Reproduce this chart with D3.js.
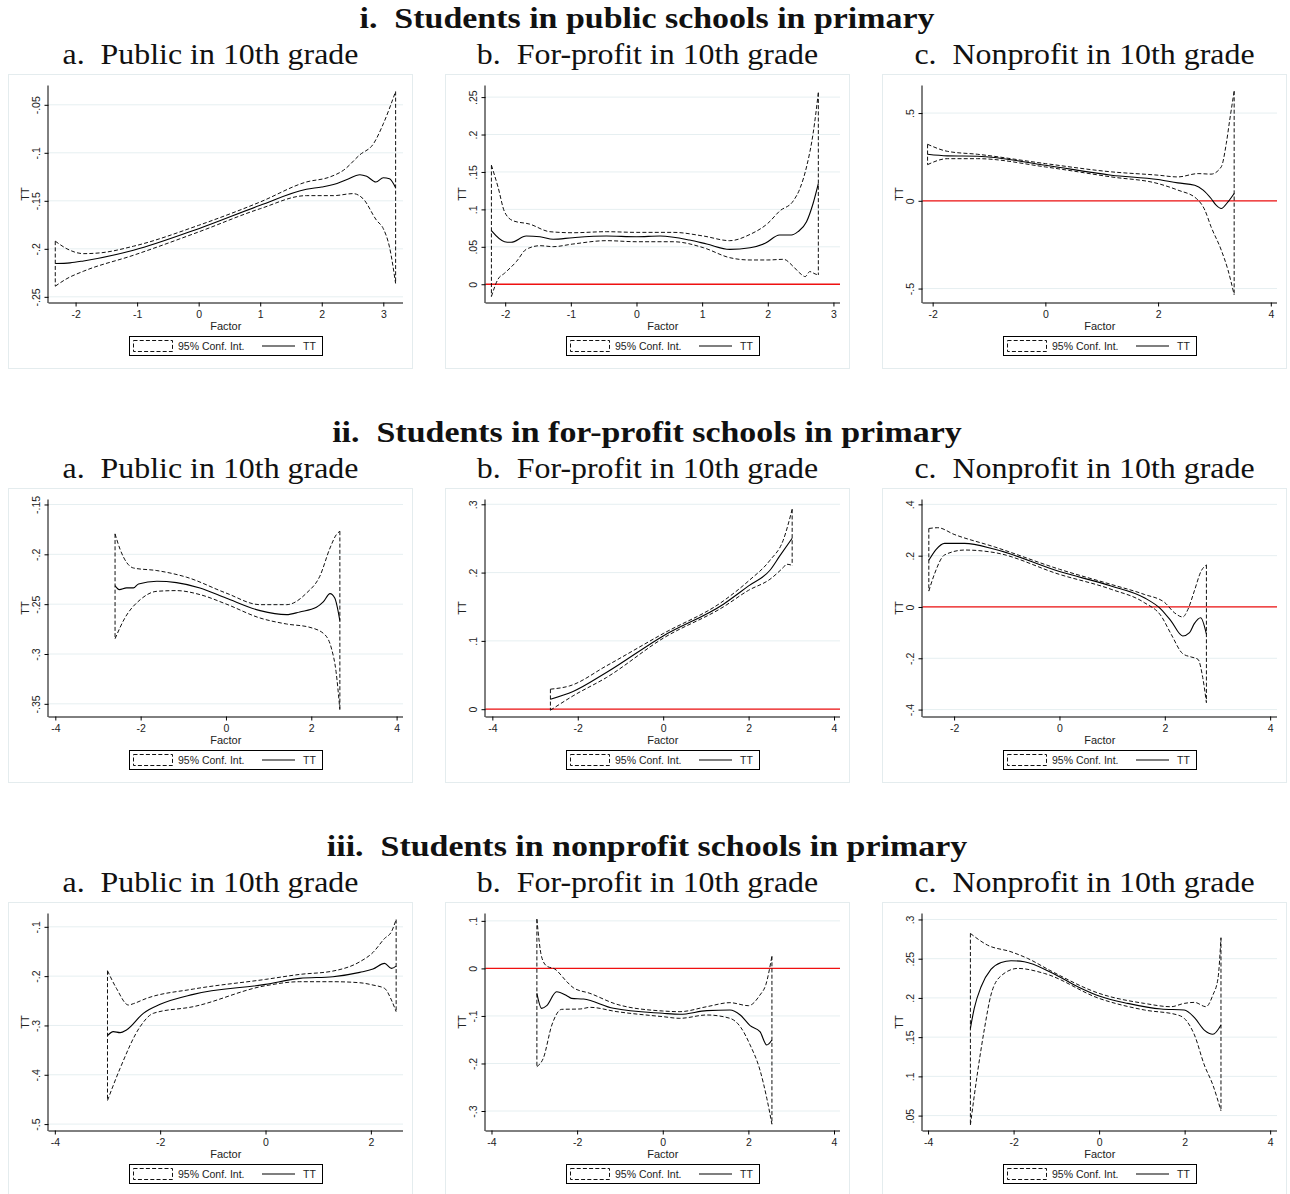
<!DOCTYPE html>
<html>
<head>
<meta charset="utf-8">
<script src="https://cdn.jsdelivr.net/npm/d3@7"></script>
<style>
  body { margin: 0; background: #fff; }
  svg text { font-family: "Liberation Sans", Arial, sans-serif; }
  .rowtitle, .subtitle { font-family: "Liberation Serif", "Times New Roman", serif !important; fill: #111; }
</style>
</head>
<body>
<div id="chart"></div>
<script>
// ---- titles ----
var rowTitles = [
  'i.  Students in public schools in primary',
  'ii.  Students in for-profit schools in primary',
  'iii.  Students in nonprofit schools in primary'
]
var colTitles = [
  'a.  Public in 10th grade',
  'b.  For-profit in 10th grade',
  'c.  Nonprofit in 10th grade'
]

// ---- i-a ----
var iaTT = [[-2.33,-0.2153],[-2.09,-0.2146],[-1.87,-0.2126],[-1.06,-0.2015],[0,-0.179],[1,-0.1547],[1.75,-0.138],[2,-0.1356],[2.19,-0.133],[2.4,-0.128],[2.62,-0.1228],[2.73,-0.1245],[2.88,-0.1304],[3.0,-0.126],[3.1,-0.127],[3.2,-0.1363]]
var iaHi = [[-2.33,-0.192],[-2.14,-0.2],[-1.87,-0.205],[-1.6,-0.2042],[-1.06,-0.1973],[0,-0.1755],[1,-0.1512],[1.75,-0.1304],[2.13,-0.1252],[2.35,-0.1183],[2.62,-0.102],[2.84,-0.0906],[3.0,-0.0698],[3.2,-0.0361]]
var iaLo = [[-2.33,-0.2389],[-2.14,-0.231],[-1.87,-0.2233],[-1.06,-0.2067],[0,-0.1824],[1,-0.1582],[1.75,-0.1446],[2.19,-0.1446],[2.51,-0.1425],[2.67,-0.1477],[2.89,-0.1703],[3.0,-0.179],[3.1,-0.198],[3.2,-0.2361]]
// ---- i-b ----
var ibTT = [[-2.21,0.0715],[-2.01,0.0568],[-1.91,0.056],[-1.68,0.0644],[-1.47,0.0635],[-1.27,0.06],[-0.97,0.0622],[-0.46,0.0644],[0,0.0635],[0.36,0.0644],[0.81,0.059],[1.07,0.0537],[1.42,0.0466],[1.73,0.0488],[1.96,0.0546],[2.18,0.0657],[2.36,0.0657],[2.46,0.0702],[2.59,0.0835],[2.69,0.1079],[2.77,0.1345]]
var ibHi = [[-2.21,0.159],[-2.11,0.1301],[-2.01,0.0968],[-1.88,0.0848],[-1.63,0.0804],[-1.32,0.0702],[-0.97,0.0688],[-0.46,0.0702],[0,0.0693],[0.56,0.0693],[1.02,0.0644],[1.42,0.0582],[1.73,0.0666],[2.0,0.0813],[2.18,0.0977],[2.39,0.1115],[2.49,0.1279],[2.59,0.1567],[2.69,0.2012],[2.77,0.2558]]
var ibLo = [[-2.21,-0.0164],[-2.11,0.0067],[-2.01,0.0147],[-1.83,0.0302],[-1.68,0.0466],[-1.47,0.0515],[-1.27,0.0502],[-0.97,0.0537],[-0.46,0.0582],[0,0.0568],[0.56,0.0568],[1.02,0.0488],[1.42,0.0355],[1.73,0.0324],[2.0,0.0324],[2.24,0.0333],[2.39,0.0235],[2.49,0.0147],[2.57,0.0102],[2.64,0.0169],[2.72,0.0138],[2.77,0.0124]]
// ---- i-c ----
var icTT = [[-2.09,0.265],[-1.74,0.256],[-1.2,0.254],[0,0.203],[1.17,0.146],[2,0.121],[2.35,0.102],[2.65,0.089],[2.8,0.061],[2.94,0.013],[3.03,-0.025],[3.12,-0.044],[3.24,-0.006],[3.35,0.042]]
var icHi = [[-2.09,0.322],[-1.74,0.282],[-1.2,0.265],[0,0.212],[1.17,0.165],[2,0.146],[2.35,0.136],[2.71,0.155],[2.94,0.152],[3.12,0.193],[3.21,0.326],[3.27,0.458],[3.35,0.625]]
var icLo = [[-2.09,0.206],[-1.74,0.24],[-1.2,0.24],[0,0.193],[1.17,0.136],[2,0.098],[2.35,0.061],[2.68,0.013],[2.83,-0.053],[2.94,-0.148],[3.12,-0.28],[3.24,-0.394],[3.35,-0.536]]
// ---- ii-a ----
var iiaTT = [[-2.6,-0.2314],[-2.5,-0.2354],[-2.33,-0.2337],[-2.17,-0.2337],[-2.05,-0.2297],[-1.62,-0.227],[-1.16,-0.2284],[-0.61,-0.2337],[0,-0.2438],[0.8,-0.2565],[1.42,-0.2605],[1.73,-0.2578],[2.12,-0.2532],[2.28,-0.2478],[2.44,-0.2394],[2.55,-0.2438],[2.67,-0.2666]]
var iiaHi = [[-2.6,-0.1795],[-2.48,-0.1952],[-2.17,-0.2137],[-1.62,-0.2163],[-0.92,-0.223],[0,-0.2388],[0.8,-0.2505],[1.42,-0.2505],[1.89,-0.2388],[2.2,-0.222],[2.44,-0.1936],[2.59,-0.1801],[2.67,-0.1768]]
var iiaLo = [[-2.6,-0.2847],[-2.37,-0.2639],[-2.01,-0.2455],[-1.62,-0.2371],[-1.16,-0.2364],[-0.61,-0.2404],[0,-0.2498],[0.8,-0.2639],[1.42,-0.2699],[1.97,-0.2733],[2.32,-0.2807],[2.47,-0.294],[2.58,-0.3175],[2.67,-0.356]]
// ---- ii-b ----
var iibTT = [[-2.64,0.0146],[-2.11,0.0259],[-1.33,0.0537],[0,0.1073],[1.41,0.1537],[2,0.1805],[2.5,0.2034],[2.73,0.2244],[3.02,0.2502]]
var iibHi = [[-2.64,0.0293],[-2.19,0.0341],[-1.33,0.0634],[0,0.1107],[1.41,0.1585],[2,0.1878],[2.5,0.218],[2.81,0.2473],[3.02,0.2927]]
var iibLo = [[-2.64,-0.0015],[-2.11,0.0195],[-1.33,0.0463],[0,0.1039],[1.41,0.1498],[2,0.1741],[2.5,0.1902],[2.81,0.2073],[2.89,0.2122],[3.02,0.2107]]
// ---- ii-c ----
var iicTT = [[-2.48,0.182],[-2.34,0.225],[-2.18,0.248],[-1.8,0.248],[-1.23,0.225],[0,0.138],[0.98,0.082],[1.61,0.036],[1.93,-0.009],[2.12,-0.055],[2.34,-0.113],[2.47,-0.1],[2.56,-0.065],[2.68,-0.042],[2.79,-0.106]]
var iicHi = [[-2.48,0.306],[-2.31,0.309],[-2,0.283],[-1.23,0.234],[0,0.147],[0.98,0.088],[1.61,0.049],[2,0.017],[2.18,-0.022],[2.34,-0.039],[2.44,-0.009],[2.56,0.062],[2.69,0.14],[2.79,0.164]]
var iicLo = [[-2.48,0.062],[-2.37,0.13],[-2.18,0.203],[-1.8,0.222],[-1.23,0.212],[0,0.127],[0.98,0.069],[1.61,0.017],[1.93,-0.035],[2.12,-0.106],[2.34,-0.182],[2.5,-0.195],[2.63,-0.204],[2.72,-0.275],[2.79,-0.373]]
// ---- iii-a ----
var iiiaTT = [[-3.0,-0.3207],[-2.89,-0.3126],[-2.76,-0.3146],[-2.64,-0.3092],[-2.32,-0.2754],[-2.0,-0.2572],[-1.37,-0.237],[0,-0.2167],[0.65,-0.2046],[1.28,-0.2012],[1.79,-0.1924],[2.04,-0.1857],[2.26,-0.1742],[2.39,-0.1843],[2.48,-0.1796]]
var iiiaHi = [[-3.0,-0.1891],[-2.83,-0.2248],[-2.6,-0.2586],[-2.51,-0.2559],[-2.26,-0.2451],[-1.37,-0.2262],[0,-0.2066],[0.65,-0.1965],[1.28,-0.1897],[1.79,-0.1709],[2.04,-0.152],[2.26,-0.1236],[2.39,-0.1101],[2.48,-0.0852]]
var iiiaLo = [[-3.0,-0.4522],[-2.76,-0.3868],[-2.38,-0.3024],[-2.13,-0.2754],[-1.37,-0.2619],[0,-0.2194],[0.65,-0.2113],[1.28,-0.2113],[1.79,-0.2134],[2.04,-0.2181],[2.26,-0.2248],[2.39,-0.2484],[2.48,-0.2721]]
// ---- iii-b ----
var iiibTT = [[-2.94,-0.0525],[-2.83,-0.084],[-2.71,-0.0784],[-2.48,-0.049],[-2.24,-0.0574],[-2.13,-0.063],[-1.85,-0.0644],[-1.15,-0.084],[0,-0.0945],[0.4,-0.0966],[1.03,-0.0889],[1.57,-0.0875],[1.81,-0.098],[2.04,-0.1204],[2.27,-0.133],[2.43,-0.161],[2.55,-0.1506]]
var iiibHi = [[-2.94,0.1036],[-2.83,0.0245],[-2.71,0.0049],[-2.52,-0.0014],[-2.24,-0.028],[-2.09,-0.0406],[-1.7,-0.0525],[-1.07,-0.0756],[0,-0.0896],[0.4,-0.091],[1.03,-0.0805],[1.57,-0.0721],[2.0,-0.0784],[2.27,-0.056],[2.41,-0.0336],[2.55,0.0259]]
var iiibLo = [[-2.94,-0.2066],[-2.79,-0.189],[-2.59,-0.119],[-2.36,-0.0861],[-1.93,-0.0854],[-1.7,-0.0819],[-1.07,-0.091],[0,-0.1015],[0.4,-0.105],[1.03,-0.098],[1.57,-0.105],[1.81,-0.1225],[2.04,-0.161],[2.27,-0.2136],[2.43,-0.2731],[2.55,-0.3277]]
// ---- iii-c ----
var iiicTT = [[-3.01,0.1612],[-2.92,0.1867],[-2.76,0.2143],[-2.53,0.2363],[-2.29,0.2452],[-2.06,0.2474],[-1.75,0.2461],[-1.12,0.2325],[-0.5,0.2143],[0,0.2024],[0.67,0.193],[1.45,0.1858],[1.99,0.1846],[2.23,0.1748],[2.46,0.159],[2.66,0.1536],[2.85,0.1655]]
var iiicHi = [[-3.01,0.2822],[-2.61,0.2673],[-2.06,0.2588],[-1.67,0.2503],[-1.12,0.2342],[0,0.2058],[1.06,0.193],[1.68,0.1888],[1.99,0.193],[2.23,0.1943],[2.5,0.1888],[2.66,0.2036],[2.78,0.2249],[2.85,0.2767]]
var iiicLo = [[-3.01,0.0381],[-2.84,0.106],[-2.68,0.1612],[-2.53,0.2036],[-2.29,0.2283],[-1.9,0.2376],[-1.28,0.2312],[0,0.1994],[1.06,0.1846],[1.84,0.1782],[1.99,0.174],[2.23,0.1527],[2.46,0.1145],[2.66,0.0891],[2.85,0.056]]

// axis ranges + tick labels per panel (reading order)
var xDomains = [[-2.44,3.32],[-2.30,3.10],[-2.18,4.11],[-4.16,4.15],[-4.16,4.14],[-2.60,4.13],[-4.12,2.61],[-4.14,4.14],[-4.13,4.16]]
var yDomains = [[-0.2559,-0.0299],[-0.0244,0.2655],[-0.5795,0.657],[-0.3627,-0.145],[-0.0107,0.307],[-0.427,0.419],[-0.513,-0.073],[-0.341,0.1155],[0.031,0.3076]]
var xTicks = [[-2,-1,0,1,2,3],[-2,-1,0,1,2,3],[-2,0,2,4],[-4,-2,0,2,4],[-4,-2,0,2,4],[-2,0,2,4],[-4,-2,0,2],[-4,-2,0,2,4],[-4,-2,0,2,4]]
var yTicks = [[-0.25,-0.2,-0.15,-0.1,-0.05],[0,0.05,0.1,0.15,0.2,0.25],[-0.5,0,0.5],[-0.35,-0.3,-0.25,-0.2,-0.15],[0,0.1,0.2,0.3],[-0.4,-0.2,0,0.2,0.4],[-0.5,-0.4,-0.3,-0.2,-0.1],[-0.3,-0.2,-0.1,0,0.1],[0.05,0.1,0.15,0.2,0.25,0.3]]

var ttSeries = [iaTT, ibTT, icTT, iiaTT, iibTT, iicTT, iiiaTT, iiibTT, iiicTT]
var hiSeries = [iaHi, ibHi, icHi, iiaHi, iibHi, iicHi, iiiaHi, iiibHi, iiicHi]
var loSeries = [iaLo, ibLo, icLo, iiaLo, iibLo, iicLo, iiiaLo, iiibLo, iiicLo]

var W = 1290, H = 1194
var frameX = [8, 445, 882], frameY = [74, 488, 902]
var frameW = 405, frameH = 295
var pad = {left: 40.5, right: 10, top: 11.5, bottom: 66.5}

var svg = d3.select('#chart').append('svg').attr('width', W).attr('height', H)

function stataFmt(v) {
  var s = String(+v.toFixed(2))
  return s.replace(/^(-?)0\./, '$1.')
}

// widen serif text a bit, closer to the LaTeX look
function stretch(sel, k) {
  sel.each(function(){
    var n = this.getComputedTextLength()
    d3.select(this).attr('textLength', n * k).attr('lengthAdjust','spacingAndGlyphs')
  })
}

// row + column titles
rowTitles.forEach(function(t, r){
  svg.append('text').attr('class','rowtitle')
    .attr('x', 647).attr('y', frameY[r] - 46)
    .attr('text-anchor','middle')
    .style('font-size','29px').style('font-weight','bold')
    .style('white-space','pre')
    .text(t)
    .call(stretch, 1.17)
  colTitles.forEach(function(c, k){
    svg.append('text').attr('class','subtitle')
      .attr('x', frameX[k] + frameW/2).attr('y', frameY[r] - 10)
      .attr('text-anchor','middle')
      .style('font-size','29px')
      .style('white-space','pre')
      .text(c)
      .call(stretch, 1.1)
  })
})

ttSeries.forEach(function(tt, i){
  var r = Math.floor(i/3), c = i % 3
  var fx = frameX[c], fy = frameY[r]
  var g = svg.append('g').attr('transform','translate(' + fx + ',' + fy + ')')

  g.append('rect').attr('x',0.5).attr('y',0.5).attr('width',frameW-1).attr('height',frameH-1)
    .attr('fill','#fff').attr('stroke','#e4ecee').attr('stroke-width',1)

  var x = d3.scaleLinear().domain(xDomains[i]).range([pad.left, frameW - pad.right])
  var y = d3.scaleLinear().domain(yDomains[i]).range([frameH - pad.bottom, pad.top])
  var x0 = pad.left, x1 = frameW - pad.right, yb = frameH - pad.bottom

  // grid
  g.selectAll('line.grid').data(yTicks[i]).enter().append('line')
    .attr('class','grid')
    .attr('x1', x0).attr('x2', x1)
    .attr('y1', function(d){ return y(d) }).attr('y2', function(d){ return y(d) })
    .attr('stroke','#e6eff1').attr('stroke-width',1)

  // zero reference line
  var yd = yDomains[i]
  if (yd[0] < 0 && yd[1] > 0) {
    g.append('line').attr('x1', x0).attr('x2', x1)
      .attr('y1', y(0)).attr('y2', y(0))
      .attr('stroke','#f01010').attr('stroke-width',1.3)
  }

  var line = d3.line().x(function(d){ return x(d[0]) }).y(function(d){ return y(d[1]) })
    .curve(d3.curveMonotoneX)
  var straight = d3.line().x(function(d){ return x(d[0]) }).y(function(d){ return y(d[1]) })
  var hi = hiSeries[i], lo = loSeries[i]

  // confidence band outline
  var dash = '4,2.2'
  g.append('path').attr('d', line(hi)).attr('fill','none').attr('stroke','#111').attr('stroke-width',1).attr('stroke-dasharray',dash)
  g.append('path').attr('d', line(lo)).attr('fill','none').attr('stroke','#111').attr('stroke-width',1).attr('stroke-dasharray',dash)
  g.append('path').attr('d', straight([hi[0], lo[0]])).attr('fill','none').attr('stroke','#111').attr('stroke-width',1).attr('stroke-dasharray',dash)
  g.append('path').attr('d', straight([hi[hi.length-1], lo[lo.length-1]])).attr('fill','none').attr('stroke','#111').attr('stroke-width',1).attr('stroke-dasharray',dash)

  // TT
  g.append('path').attr('d', line(tt)).attr('fill','none').attr('stroke','#000').attr('stroke-width',1.1)

  // axes
  var ax = g.append('g').attr('transform','translate(0,' + yb + ')')
    .call(d3.axisBottom(x).tickValues(xTicks[i]).tickSize(4).tickSizeOuter(0).tickFormat(stataFmt))
  ax.select('.domain').attr('d', 'M' + x0 + ',0.5H' + x1).attr('stroke','#000')
  ax.selectAll('.tick line').attr('stroke','#000')
  ax.selectAll('.tick text').attr('y', 8).style('font-size','10.5px').attr('fill','#222')

  var ay = g.append('g').attr('transform','translate(' + x0 + ',0)')
    .call(d3.axisLeft(y).tickValues(yTicks[i]).tickSize(4).tickSizeOuter(0).tickFormat(stataFmt))
  ay.select('.domain').attr('d', 'M-0.5,' + pad.top + 'V' + (yb + 0.5)).attr('stroke','#000')
  ay.selectAll('.tick line').attr('stroke','#000')
  ay.selectAll('.tick text')
    .attr('x', null).attr('dy', null).attr('text-anchor','middle')
    .attr('transform','translate(-9,0) rotate(-90)')
    .style('font-size','10.5px').attr('fill','#222')

  g.append('text').attr('x', (x0 + x1)/2).attr('y', yb + 27)
    .attr('text-anchor','middle').style('font-size','11px').attr('fill','#222').text('Factor')
  g.append('text').attr('transform','translate(' + (x0 - 20) + ',' + ((pad.top + yb)/2) + ') rotate(-90)')
    .attr('text-anchor','middle').style('font-size','11px').attr('fill','#222').text('TT')

  // legend
  var lg = g.append('g').attr('transform','translate(121,262)')
  lg.append('rect').attr('x',0.5).attr('y',0.5).attr('width',193).attr('height',19)
    .attr('fill','#fff').attr('stroke','#000').attr('stroke-width',1)
  lg.append('rect').attr('x',4.5).attr('y',4.5).attr('width',39).attr('height',11)
    .attr('fill','none').attr('stroke','#111').attr('stroke-dasharray',dash)
  lg.append('text').attr('x',49).attr('y',13.8).style('font-size','10.5px').attr('fill','#222').text('95% Conf. Int.')
  lg.append('line').attr('x1',133).attr('x2',166).attr('y1',10).attr('y2',10).attr('stroke','#000').attr('stroke-width',1.1)
  lg.append('text').attr('x',174).attr('y',13.8).style('font-size','10.5px').attr('fill','#222').text('TT')
})
</script>
</body>
</html>
